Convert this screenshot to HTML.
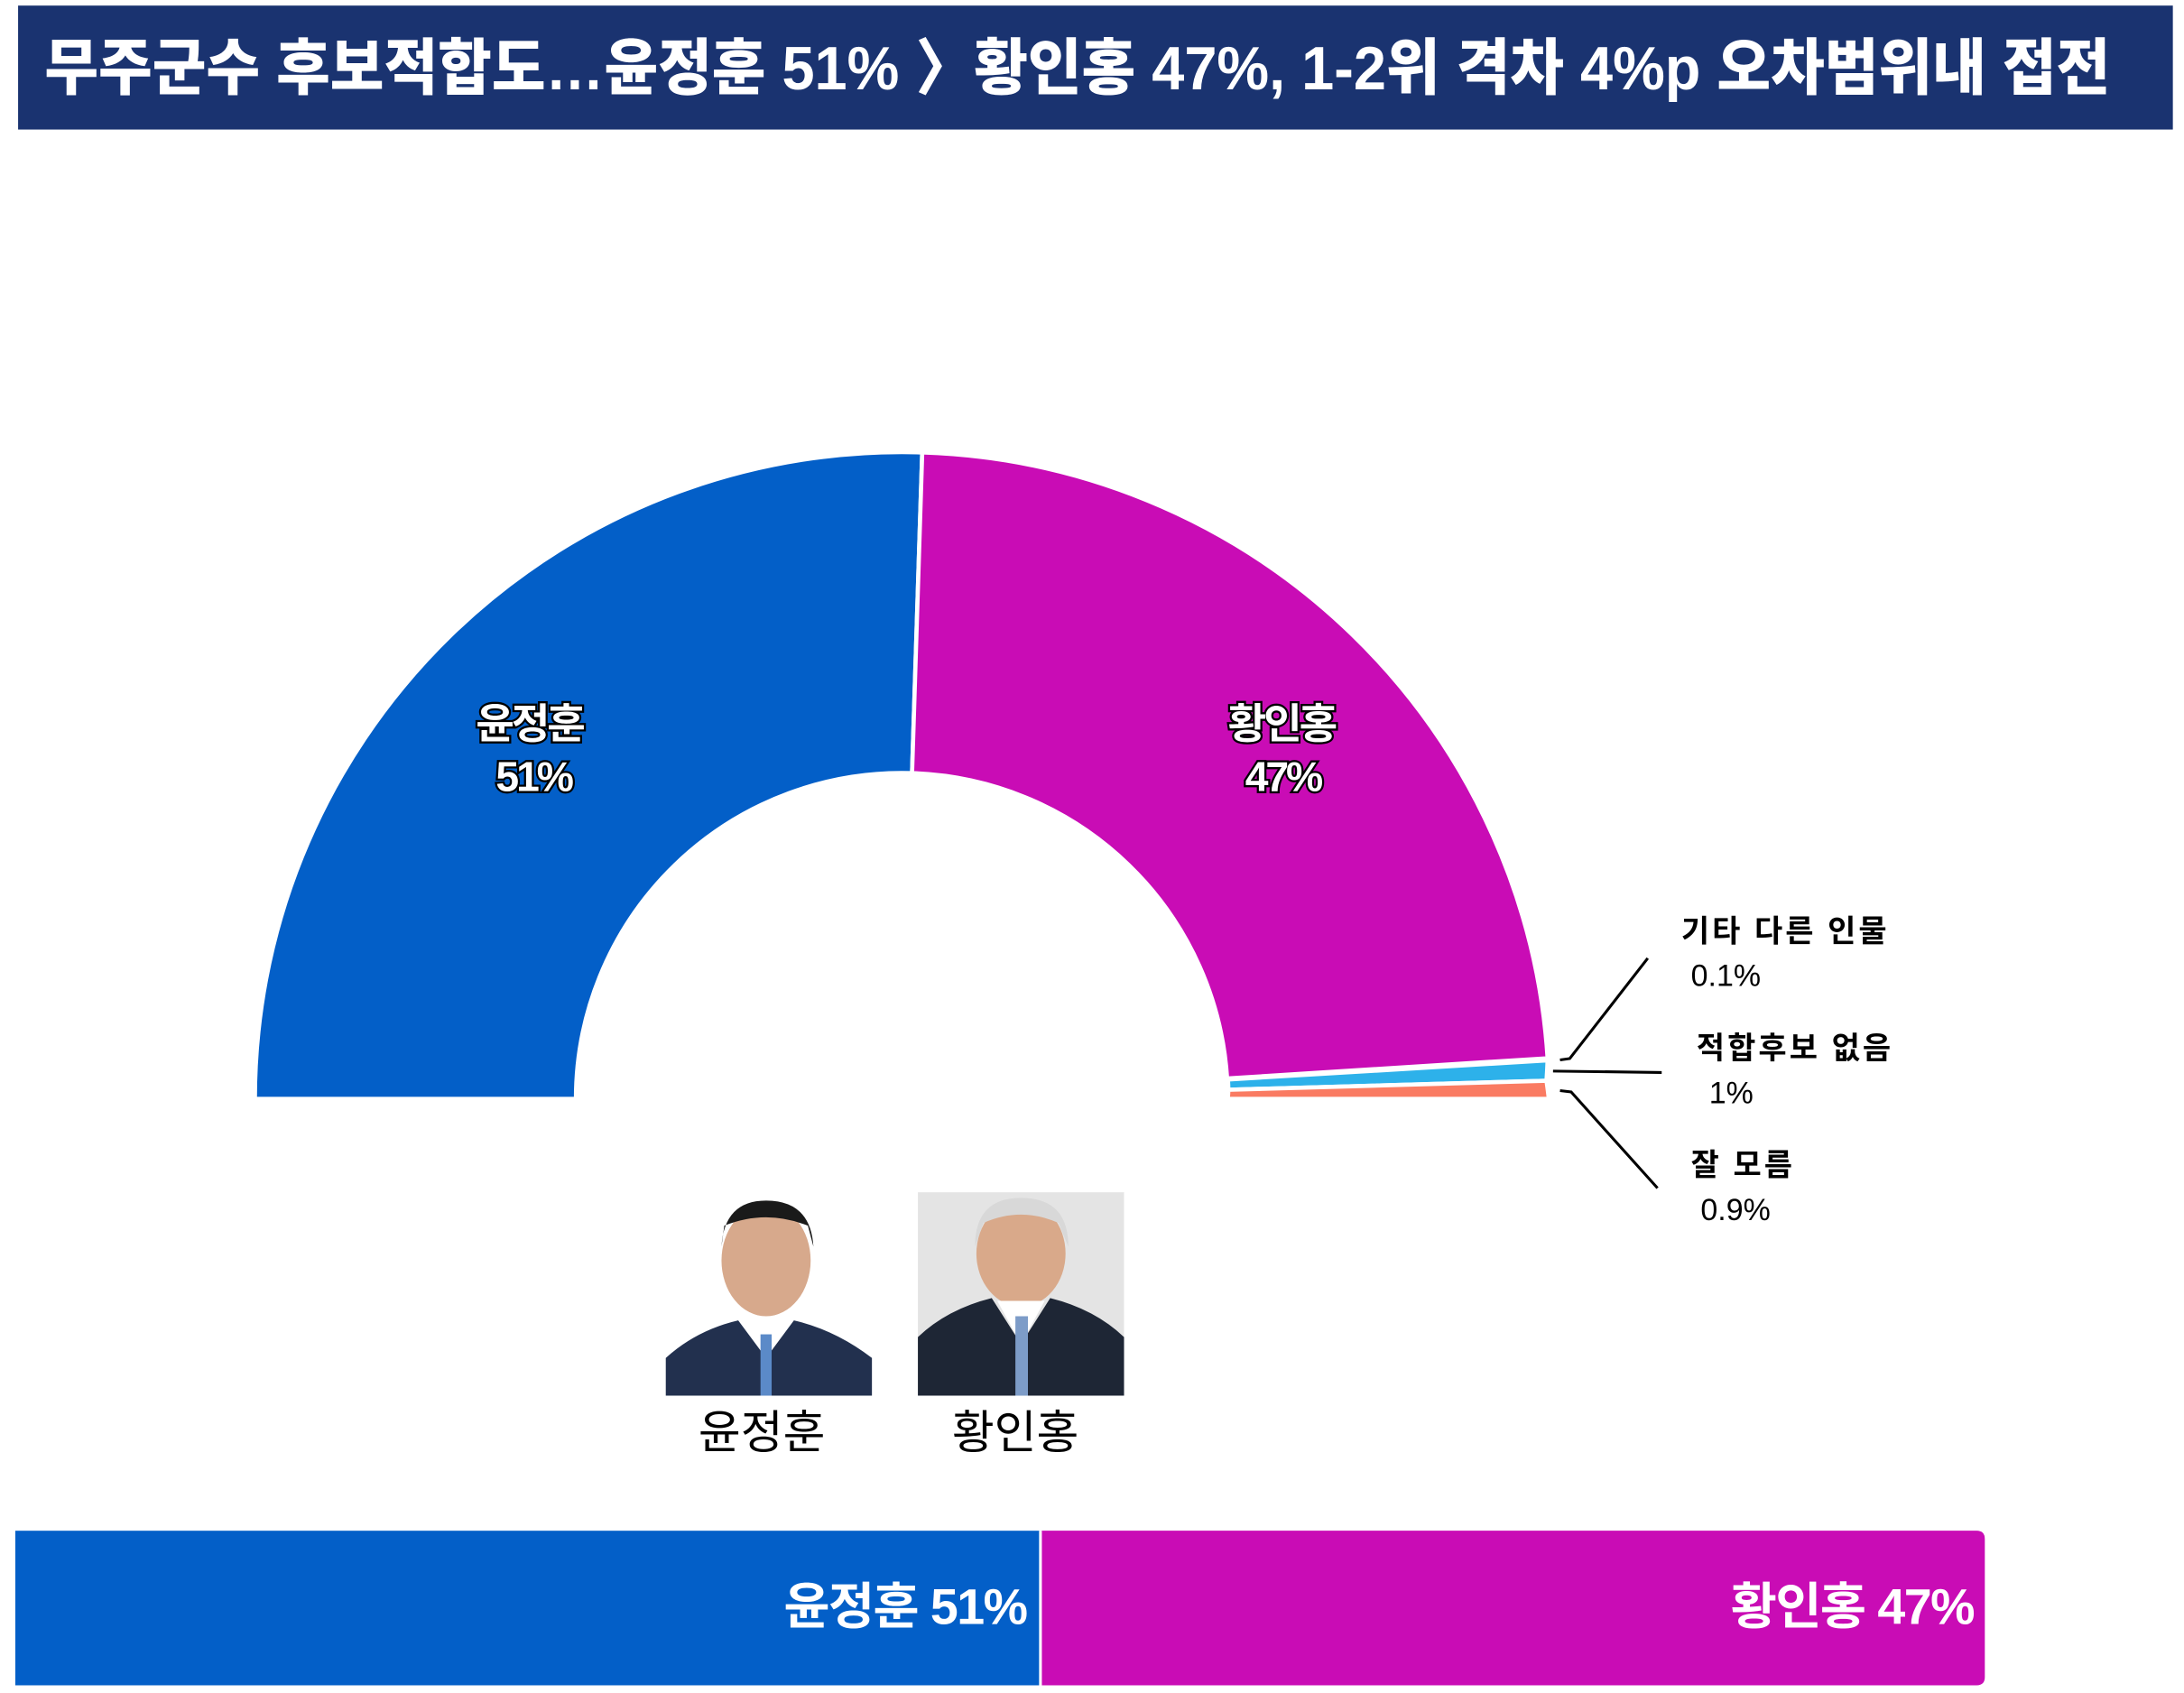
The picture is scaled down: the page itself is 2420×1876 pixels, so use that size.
<!DOCTYPE html>
<html><head><meta charset="utf-8"><style>
html,body{margin:0;padding:0;background:#fff;}
svg{display:block;}
text{font-family:"Liberation Sans","Noto Sans CJK KR",sans-serif;}
</style></head><body>
<svg width="2420" height="1876" viewBox="0 0 1568 1215.5" xmlns="http://www.w3.org/2000/svg">
<rect x="0" y="0" width="1568" height="1215.5" fill="#fff"/>
<rect x="13" y="4" width="1547" height="89" fill="#1a3370"/>
<text x="32" y="64" font-size="44" font-weight="900" fill="#fff" textLength="1483" lengthAdjust="spacingAndGlyphs">무주군수 후보적합도…윤정훈 51% 〉황인홍 47%, 1-2위 격차 4%p 오차범위내 접전</text>

<g stroke="#fff" stroke-width="3" stroke-linejoin="round">
<path d="M183,789 A464.5,464.5 0 0 1 662.1,324.8 L654.8,555.1 A234,234 0 0 0 413.5,789 Z" fill="#035fc8"/>
<path d="M662.1,324.8 A464.5,464.5 0 0 1 1111.1,759.8 L881,774.3 A234,234 0 0 0 654.8,555.1 Z" fill="#c90cb5"/>
<path d="M1111.1,761.3 A464.5,464.5 0 0 1 1110.3,775.9 L881.9,782.4 A234,234 0 0 0 881.6,775 Z" fill="#2db1ea"/>
<path d="M1110.3,775.9 A464.5,464.5 0 0 1 1112,789 L881.5,789 A234,234 0 0 0 881.9,782.4 Z" fill="#fa7b62"/>
</g>

<g font-size="30" font-weight="700" fill="#fff" stroke="#000" stroke-width="3" paint-order="stroke" text-anchor="middle" letter-spacing="-2">
<text x="380" y="530">윤정훈</text><text x="383" y="568">51%</text>
<text x="920" y="530">황인홍</text><text x="921" y="568">47%</text>
</g>

<g stroke="#000" stroke-width="2" fill="none">
<polyline points="1120,761 1127,760 1183,688"/>
<polyline points="1115,769 1193,770"/>
<polyline points="1120,783 1128,784 1190,853"/>
</g>
<g font-size="22" fill="#000">
<text x="1207" y="676" font-weight="700" letter-spacing="2">기타 다른 인물</text><text x="1214" y="708">0.1%</text>
<text x="1218" y="760" font-weight="700" letter-spacing="2">적합후보 없음</text><text x="1227" y="792">1%</text>
<text x="1214" y="844" font-weight="700" letter-spacing="2">잘 모름</text><text x="1221" y="876">0.9%</text>
</g>

<!-- photos -->
<rect x="478" y="863" width="148" height="139" fill="#fff"/>
<ellipse cx="550" cy="905" rx="32" ry="40" fill="#d7a98c"/>
<path d="M518,895 Q520,862 550,862 Q582,862 584,895 L580,880 Q550,868 520,880 Z" fill="#1a1a1a"/>
<path d="M478,1002 L478,975 Q500,955 530,948 L550,975 L570,948 Q600,955 626,975 L626,1002 Z" fill="#22304e"/>
<path d="M535,950 L550,975 L565,950 Z" fill="#fff"/>
<rect x="546" y="958" width="8" height="44" fill="#5b8ac8"/>

<rect x="659" y="856" width="148" height="146" fill="#e4e4e4"/>
<ellipse cx="733" cy="900" rx="32" ry="38" fill="#d9a98a"/>
<path d="M700,895 Q700,860 733,860 Q767,860 767,895 L760,878 Q733,866 706,878 Z" fill="#d8d8d8"/>
<path d="M659,1002 L659,960 Q680,940 712,932 L733,965 L754,932 Q786,940 807,960 L807,1002 Z" fill="#1e2635"/>
<path d="M716,934 L733,965 L750,934 Z" fill="#fff"/>
<rect x="729" y="945" width="9" height="57" fill="#7d9cc8"/>

<g font-size="33" fill="#000" text-anchor="middle">
<text x="547" y="1040">윤정훈</text><text x="729" y="1040">황인홍</text>
</g>

<rect x="11" y="1099" width="736" height="111" fill="#035fc8"/>
<path d="M747,1099 L1419,1099 Q1425,1099 1425,1105 L1425,1204 Q1425,1210 1419,1210 L747,1210 Z" fill="#c90cb5"/>
<line x1="747" y1="1099" x2="747" y2="1210" stroke="#fff" stroke-width="2"/>
<g font-size="36" font-weight="700" fill="#fff" text-anchor="end" letter-spacing="-1">
<text x="737" y="1166">윤정훈 51%</text><text x="1417" y="1166">황인홍 47%</text>
</g>
</svg>
</body></html>
